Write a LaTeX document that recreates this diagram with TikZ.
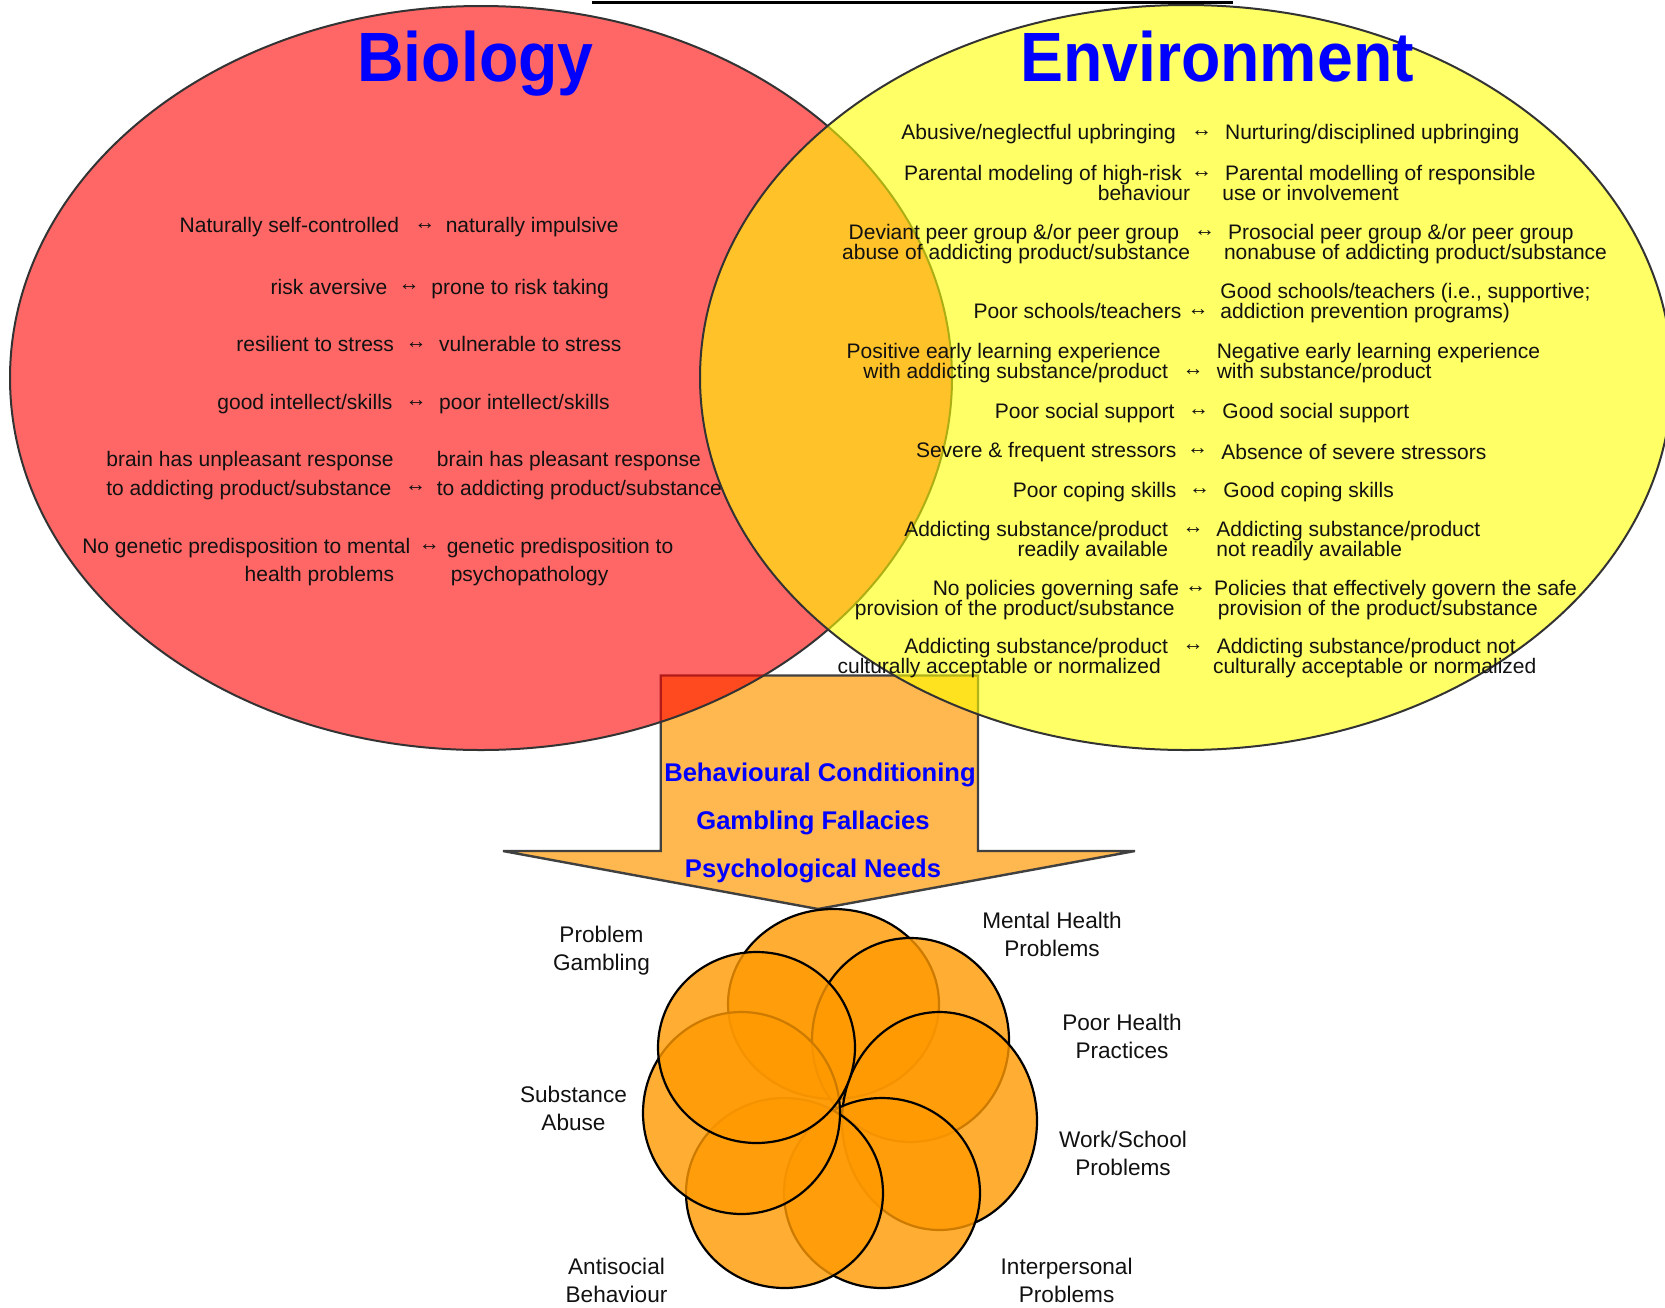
\documentclass[tikz,border=0pt]{standalone}
\usepackage{fontspec}
\setmainfont{Liberation Sans}
\newfontfamily\titlefont{Liberation Sans}[FakeStretch=0.923]
\definecolor{venred}{HTML}{FF0000}
\definecolor{venyel}{HTML}{FFFF00}
\definecolor{edgegray}{HTML}{333333}
\definecolor{arrfill}{HTML}{FFB74F}
\definecolor{arredge}{HTML}{404040}
\definecolor{petalc}{HTML}{FF9900}
\definecolor{txtblue}{HTML}{0000FF}
\definecolor{txtblack}{HTML}{111111}
\tikzset{
  bt/.style={inner sep=0pt, text=txtblack, font=\fontsize{10.5}{14.2}\selectfont},
  et/.style={inner sep=0pt, text=txtblack, font=\fontsize{10.5}{10}\selectfont},
  lt/.style={anchor=east, align=right},
  rt/.style={anchor=west, align=left},
  dbl/.style={inner sep=0pt, text=txtblack, font=\fontsize{10.5}{10}\selectfont},
  ttl/.style={inner sep=0pt, anchor=base, text=txtblue, font=\titlefont\bfseries\fontsize{34.9}{40}\selectfont},
  mid/.style={inner sep=0pt, anchor=base, text=txtblue, font=\bfseries\fontsize{12.8}{15}\selectfont},
  lab/.style={inner sep=0pt, align=center, text=txtblack, font=\fontsize{11.3}{14}\selectfont},
  venn/.style={draw=edgegray, line width=1pt, fill opacity=0.6},
  petal/.style={draw=black, line width=1.1pt, fill=petalc, fill opacity=0.8},
  bigarrow/.style={draw=arredge, line width=1.2pt, fill=arrfill, line join=miter}
}
\begin{document}
\begin{tikzpicture}[x=0.5pt,y=-0.5pt]
\useasboundingbox (0,0) rectangle (1665,1307);
% big arrow
\draw[bigarrow] (660.7,675.5) -- (978,675.5) -- (978,851) -- (1135,851) -- (818,909) -- (503,851) -- (660.7,851) -- cycle;
% venn ellipses
\draw[venn, fill=venred] (481,378) ellipse [x radius=235.5pt, y radius=186pt];
\draw[venn, fill=venyel] (1186,377.5) ellipse [x radius=243pt, y radius=186.25pt];
% titles
\node[ttl] (tbio) at (475.5,81.7) {Biology};
\node[ttl] (tenv) at (1217,81.7) {Environment};
% biology rows
\node[bt,lt] (b1l) at (399.5,227.3) {Naturally self-controlled};
\node[dbl] (b1a) at (424.8,226.5) {↔};
\node[bt,rt] (b1r) at (445.4,227.3) {naturally impulsive};
\node[bt,lt] (b2l) at (387.8,287.2) {risk aversive};
\node[dbl] (b2a) at (409,288) {↔};
\node[bt,rt] (b2r) at (431,288.6) {prone to risk taking};
\node[bt,lt] (b3l) at (394.4,344) {resilient to stress};
\node[dbl] (b3a) at (416,345.7) {↔};
\node[bt,rt] (b3r) at (438.8,344) {vulnerable to stress};
\node[bt,lt] (b4l) at (392.9,404) {good intellect/skills};
\node[dbl] (b4a) at (416,403.3) {↔};
\node[bt,rt] (b4r) at (438.8,404) {poor intellect/skills};
\node[bt,anchor=west,align=left] (b5l) at (106,475.4) {brain has unpleasant response\\to addicting product/substance};
\node[dbl] (b5a) at (415.5,489) {↔};
\node[bt,rt] (b5r) at (436.5,475.4) {brain has pleasant response\\to addicting product/substance};
\node[bt,lt] (b6l) at (410.7,562) {No genetic predisposition to mental\\health problems\hspace*{8.1pt}};
\node[dbl] (b6a) at (429.3,547.3) {↔};
\node[bt,rt] (b6r) at (446.4,562) {genetic predisposition to\\\hspace*{2pt}psychopathology};
% environment rows
\node[et,lt] (e1l) at (1176.2,134) {Abusive/neglectful upbringing};
\node[dbl] (e1a) at (1201.6,133.3) {↔};
\node[et,rt] (e1r) at (1224.7,134) {Nurturing/disciplined upbringing};
\node[et,lt] (e2l) at (1190.5,183.4) {Parental modeling of high-risk\hspace*{4.1pt}\\behaviour};
\node[dbl] (e2a) at (1201.6,175) {↔};
\node[et,rt] (e2r) at (1222,183.4) {\hspace*{1.3pt}Parental modelling of responsible\\use or involvement};
\node[et,lt] (e3l) at (1190.5,244.5) {Deviant peer group \&/or peer group\hspace*{5.5pt}\\abuse of addicting product/substance};
\node[dbl] (e3a) at (1204.5,234) {↔};
\node[et,rt] (e3r) at (1223.6,244.5) {\hspace*{2pt}Prosocial peer group \&/or peer group\\nonabuse of addicting product/substance};
\node[et,lt] (e4l) at (1181.7,310.6) {Poor schools/teachers};
\node[dbl] (e4a) at (1198,312.3) {↔};
\node[et,rt] (e4r) at (1220,303) {Good schools/teachers (i.e., supportive;\\addiction prevention programs)};
\node[et,lt] (e5l) at (1168.5,363.4) {Positive early learning experience\hspace*{3.7pt}\\with addicting substance/product};
\node[dbl] (e5a) at (1193,372.3) {↔};
\node[et,rt] (e5r) at (1216.4,363.4) {Negative early learning experience\\with substance/product};
\node[et,lt] (e6l) at (1175,412.9) {Poor social support};
\node[dbl] (e6a) at (1198.5,412.3) {↔};
\node[et,rt] (e6r) at (1222,412.9) {Good social support};
\node[et,lt] (e7l) at (1176.7,452.3) {Severe \& frequent stressors};
\node[dbl] (e7a) at (1197.5,451.7) {↔};
\node[et,rt] (e7r) at (1221,452.3) {Absence of severe stressors};
\node[et,lt] (e8l) at (1176.7,491.9) {Poor coping skills};
\node[dbl] (e8a) at (1199.6,491.3) {↔};
\node[et,rt] (e8r) at (1223,491.9) {Good coping skills};
\node[et,lt] (e9l) at (1168.5,541.2) {Addicting substance/product\\readily available};
\node[dbl] (e9a) at (1193,530.7) {↔};
\node[et,rt] (e9r) at (1216,541.2) {Addicting substance/product\\not readily available};
\node[et,lt] (e10l) at (1179.5,600) {No policies governing safe\\provision of the product/substance\hspace*{2.2pt}};
\node[dbl] (e10a) at (1195.7,590) {↔};
\node[et,rt] (e10r) at (1213.7,600) {Policies that effectively govern the safe\\\hspace*{1.9pt}provision of the product/substance};
\node[et,lt] (e11l) at (1168.5,658.5) {Addicting substance/product\\culturally acceptable or normalized\hspace*{3.6pt}};
\node[dbl] (e11a) at (1193,648) {↔};
\node[et,rt] (e11r) at (1212.6,658.5) {\hspace*{1.9pt}Addicting substance/product not\\culturally acceptable or normalized};
% arrow texts
\node[mid] (m1) at (820,781.7) {Behavioural Conditioning};
\node[mid] (m2) at (813,829.3) {Gambling Fallacies};
\node[mid] (m3) at (813,877.3) {Psychological Needs};
% flower
\draw[petal] (833.5,1004) ellipse [x radius=52.75pt, y radius=47.5pt];
\draw[petal] (910.5,1040) ellipse [x radius=49.25pt, y radius=51pt];
\draw[petal] (939.5,1121) ellipse [x radius=48.75pt, y radius=54.5pt];
\draw[petal] (882,1193) ellipse [x radius=49pt, y radius=47.5pt];
\draw[petal] (784.5,1193) ellipse [x radius=49.25pt, y radius=47.5pt];
\draw[petal] (741.5,1113) ellipse [x radius=49.25pt, y radius=50.5pt];
\draw[petal] (756.5,1047.5) ellipse [x radius=49.25pt, y radius=47.75pt];
% flower labels
\node[lab] (pg) at (601.5,951) {Problem\\Gambling};
\node[lab] (mh) at (1052,934) {Mental Health\\Problems};
\node[lab] (ph) at (1122,1036.7) {Poor Health\\Practices};
\node[lab] (sa) at (573.5,1108) {Substance\\Abuse};
\node[lab] (ws) at (1123,1153) {Work/School\\Problems};
\node[lab] (ab) at (616.5,1280) {Antisocial\\Behaviour};
\node[lab] (ip) at (1066.6,1280) {Interpersonal\\Problems};
% cut-off underline at the top
\draw[line width=1.5pt, black] (592,2) -- (1233,2);
\end{tikzpicture}
\end{document}
